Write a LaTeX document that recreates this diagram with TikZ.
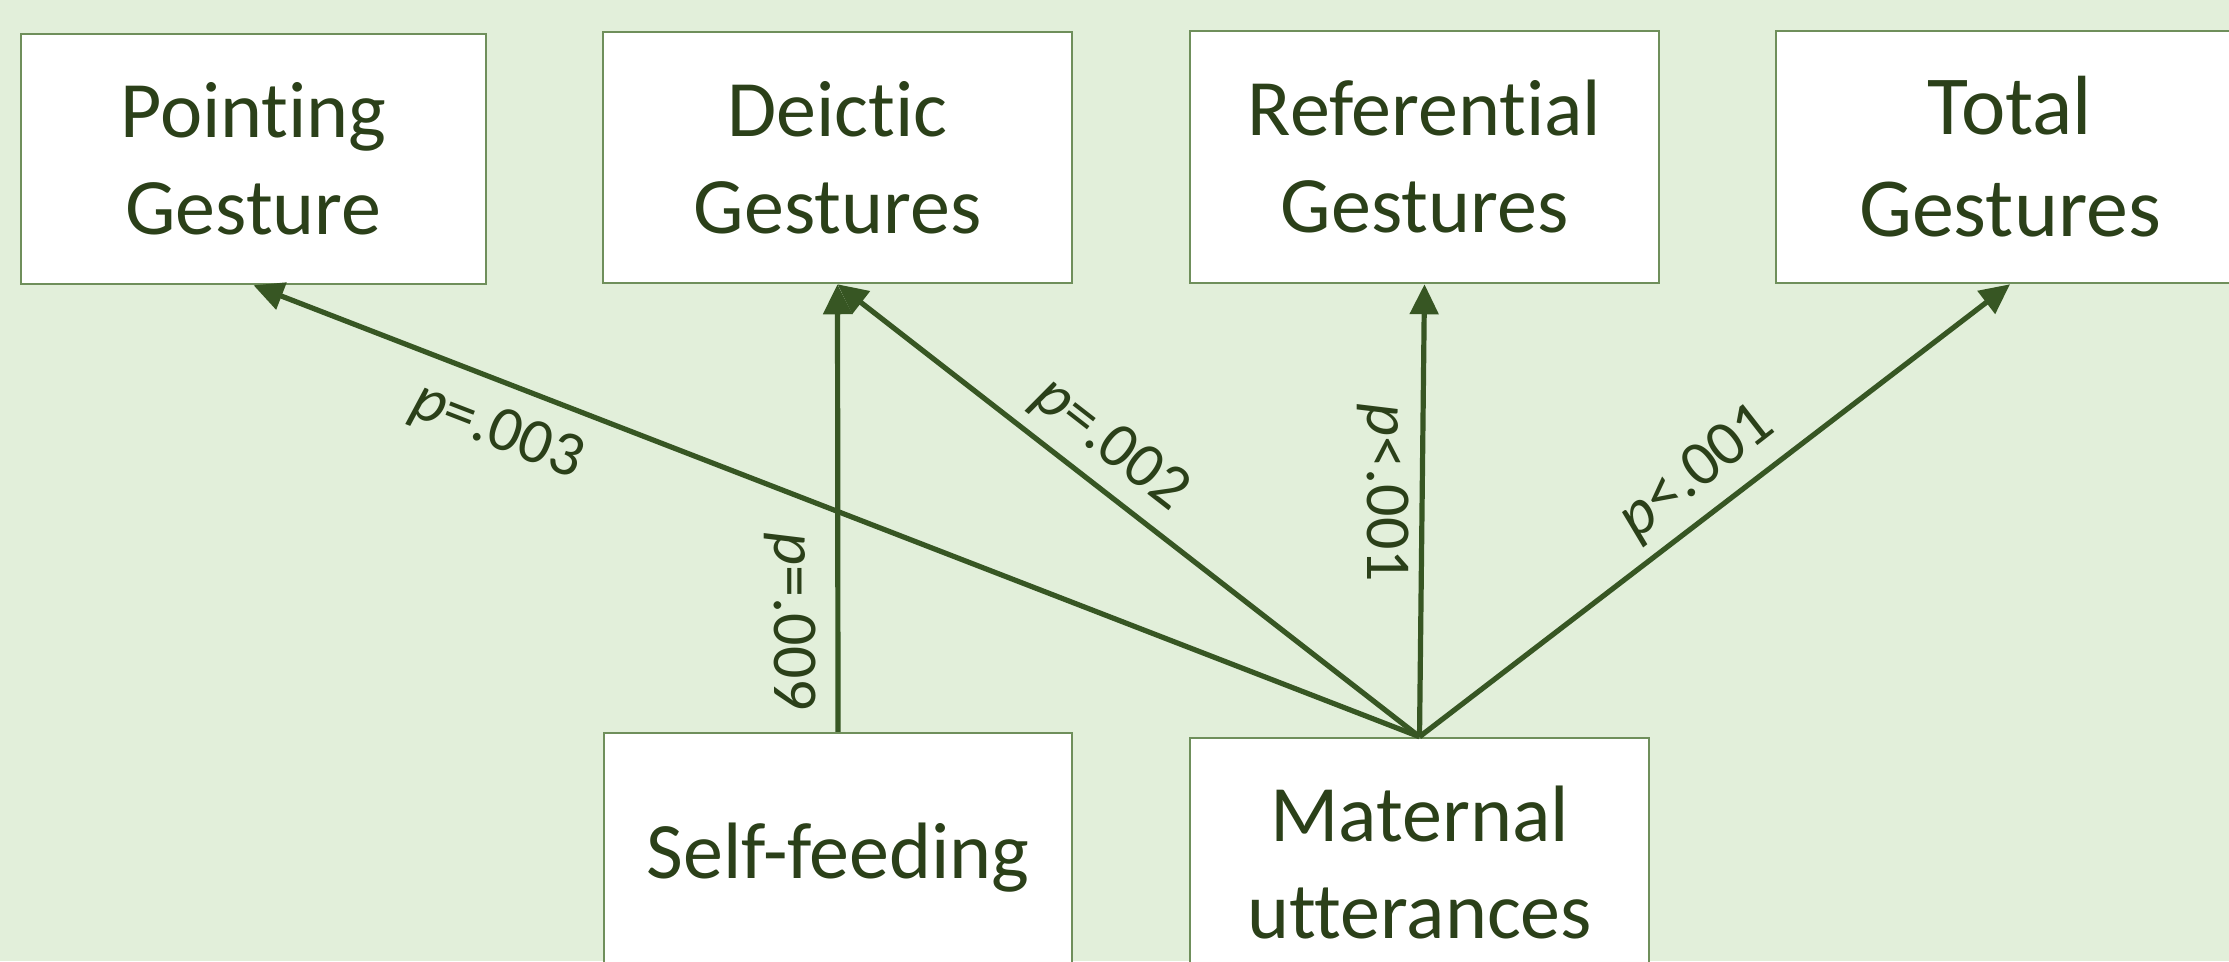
\documentclass[tikz,border=0pt]{standalone}
\usepackage{fontspec}
\setmainfont{Carlito}[Ligatures=NoCommon]
\usetikzlibrary{arrows.meta}
\definecolor{bg}{HTML}{E2EFDA}
\definecolor{edge}{HTML}{375623}
\definecolor{txt}{HTML}{2B4019}
\definecolor{bord}{HTML}{6F8F5B}
\begin{document}
\begin{tikzpicture}[x=1pt,y=-1pt,
  box/.style={draw=bord, line width=2.5pt, fill=white, text=txt, align=center, inner sep=0pt, font=\fontsize{80}{97}\selectfont},
  arr/.style={draw=edge, line width=5.2pt, -{Triangle[length=30pt,width=28pt]}},
  lab/.style={text=txt, inner sep=0pt, font=\fontsize{64}{70}\selectfont}]
\fill[bg] (0,0) rectangle (2229,961);
\useasboundingbox (0,0) rectangle (2229,961);
\clip (0,0) rectangle (2229,961);
\node[box, minimum width=465pt, minimum height=250pt] (point) at (253.5,159) {Pointing\\Gesture};
\node[box, minimum width=469pt, minimum height=251pt] (deic) at (837.5,157.5) {Deictic\\Gestures};
\node[box, minimum width=469pt, minimum height=252pt] (ref) at (1424.5,157) {Referential\\Gestures};
\node[box, minimum width=468pt, minimum height=252pt, font=\fontsize{84}{102}\selectfont] (tot) at (2010,157) {Total\\Gestures};
\node[box, minimum width=468pt, minimum height=250pt] (self) at (838,858) {Self-feeding};
\node[box, minimum width=459pt, minimum height=250pt] (mat) at (1419.5,863) {Maternal\\utterances};
\draw[arr] (mat.north) -- (point.south);
\draw[arr] (mat.north) -- (deic.south);
\draw[arr] (self.north) -- (deic.south);
\draw[arr] (mat.north) -- (ref.south);
\draw[arr] (mat.north) -- (tot.south);
\node[lab, rotate=-21.2] (l1) at (497,432) {\textit{p}=.003};
\node[lab, rotate=-90] (l2) at (790,622) {\textit{p}=.009};
\node[lab, rotate=-37.85] (l3) at (1110,445) {\textit{p}=.002};
\node[lab, rotate=-90] (l4) at (1383,493) {\textit{p}<.001};
\node[lab, rotate=37.85] (l5) at (1697,473) {\textit{p}<.001};
\end{tikzpicture}
\end{document}
